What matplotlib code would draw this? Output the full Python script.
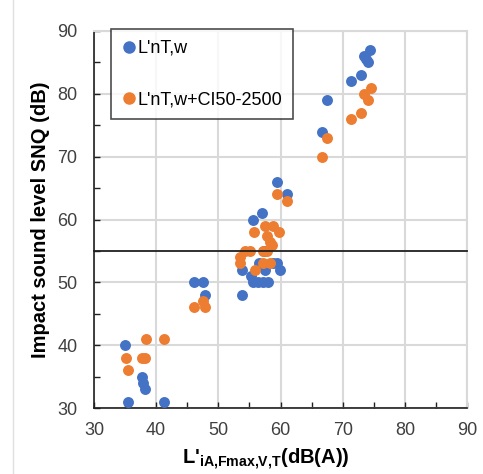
import matplotlib
matplotlib.use("Agg")
import matplotlib.pyplot as plt
from matplotlib.ticker import MultipleLocator
from matplotlib.lines import Line2D

plt.rcParams['font.family'] = ['Liberation Sans', 'DejaVu Sans']
plt.rcParams['mathtext.fontset'] = 'custom'
plt.rcParams['mathtext.rm'] = 'Liberation Sans'
plt.rcParams['mathtext.bf'] = 'Liberation Sans:bold'

series_names = ["L'nT,w", "L'nT,w+CI50-2500"]

blue_x = [35.4, 41.2, 35.0, 37.7, 37.9, 38.2,
          46.1, 47.6, 47.9,
          53.8, 53.8, 55.2, 55.6, 56.4, 57.2, 58.0, 57.5, 58.8, 59.4, 59.9, 56.5, 57.3,
          55.6, 57.1, 59.4, 61.0,
          66.6, 67.4, 71.3, 73.0, 73.4, 74.4, 74.1, 73.7]
blue_y = [31, 31, 40, 35, 34, 33,
          50, 50, 48,
          48, 52, 51, 50, 50, 50, 50, 52, 53, 53, 52, 53, 55,
          60, 61, 66, 64,
          74, 79, 82, 83, 86, 87, 85, 85.5]

orange_x = [35.1, 35.4, 37.7, 38.2, 38.3, 41.2,
            46.1, 47.9, 47.6,
            53.5, 53.5, 54.3, 55.1, 55.9, 57.2, 58.3, 57.2, 57.8, 58.6, 58.3, 57.8, 55.7, 57.5, 58.8, 59.8,
            59.4, 61.0,
            66.7, 67.4, 71.3, 73.0, 73.5, 74.5, 74.1]
orange_y = [38, 36, 38, 38, 41, 41,
            46, 46, 47,
            54, 53, 55, 55, 52, 53, 53, 55, 55, 56, 56.5, 57.3, 58, 59, 59, 58,
            64, 63,
            70, 73, 76, 77, 80, 81, 79]

threshold = 55

blue = '#4472C4'
orange = '#ED7D31'
grid_c = '#D9D9D9'

fig = plt.figure(figsize=(4.83, 4.74), dpi=100)
ax = fig.add_axes([0.1946, 0.1392, 0.7723, 0.7954])

ax.scatter(blue_x, blue_y, s=62, color=blue, zorder=3, linewidths=0)
ax.scatter(orange_x, orange_y, s=62, color=orange, zorder=4, linewidths=0)
ax.axhline(threshold, color='#202020', lw=1.3, zorder=5, clip_on=False)

ax.set_xlim(30, 90)
ax.set_ylim(30, 90)
ax.xaxis.set_major_locator(MultipleLocator(10))
ax.yaxis.set_major_locator(MultipleLocator(10))
ax.xaxis.set_minor_locator(MultipleLocator(5))
ax.yaxis.set_minor_locator(MultipleLocator(5))
ax.grid(True, which='major', color=grid_c, lw=1.5, zorder=0)
ax.set_axisbelow(True)
ax.tick_params(which='both', direction='in', length=4, width=1, color='#202020',
               labelsize=13, labelcolor='#404040', top=False, right=False)
ax.tick_params(axis='y', pad=12)
ax.tick_params(axis='x', pad=10)
for s in ['top', 'right']:
    ax.spines[s].set_color(grid_c)
    ax.spines[s].set_linewidth(1.5)
for s in ['left', 'bottom']:
    ax.spines[s].set_color('#202020')
    ax.spines[s].set_linewidth(1.2)

ax.set_ylabel('Impact sound level SNQ (dB)', fontsize=14.5, fontweight='bold', labelpad=5)
ax.set_xlabel(r"L'$_{\mathbf{iA{,}Fmax{,}V{,}T}}$(dB(A))", fontsize=14.5, fontweight='bold')
ax.xaxis.set_label_coords(0.46, -0.103)

handles = [Line2D([], [], marker='o', ls='', color=blue, markersize=8),
           Line2D([], [], marker='o', ls='', color=orange, markersize=8)]
leg = ax.legend(handles, series_names, loc='upper left', bbox_to_anchor=(0.046, 1.005),
                fontsize=13, frameon=True, fancybox=False, edgecolor='#202020',
                labelspacing=1.9, handletextpad=0.05, handlelength=0.8, borderpad=0.6,
                borderaxespad=0)
leg.get_frame().set_linewidth(1.2)
leg.set_zorder(6)

fig.add_artist(Line2D([13/483, 13/483], [0, 1], color='#E0E0E0', lw=1))

fig.savefig('out.png', dpi=100)
